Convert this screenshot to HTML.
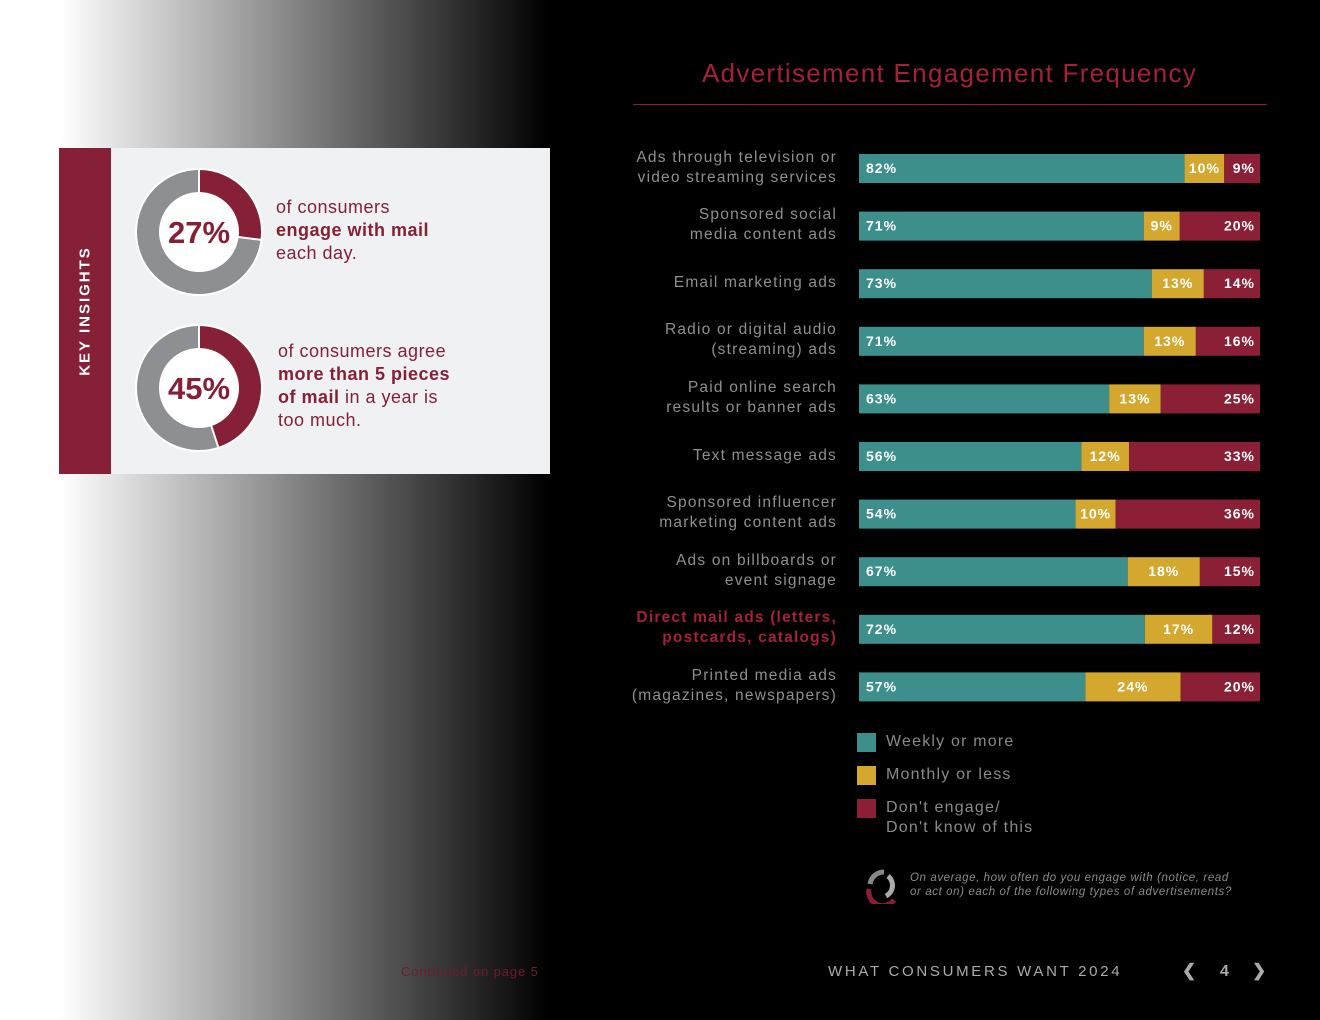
<!DOCTYPE html>
<html><head><meta charset="utf-8"><style>
body{margin:0;width:1320px;height:1020px;overflow:hidden;font-family:"Liberation Sans",sans-serif;background:linear-gradient(to right,#fff 0px,#fff 60px,#000 548px,#000 100%);position:relative}
.abs{position:absolute}
</style></head><body>
<div class="abs" style="left:59px;top:148px;width:491px;height:326px;background:#f0f1f3"></div>
<div class="abs" style="left:59px;top:148px;width:52px;height:326px;background:#862036"></div>
<div class="abs" style="left:85px;top:311px;transform:translate(-50%,-50%) rotate(-90deg);color:#fff;font-weight:bold;font-size:15px;letter-spacing:2px;white-space:nowrap">KEY INSIGHTS</div>
<svg class="abs" style="left:0;top:0" width="1320" height="1020">
<g id="donuts"></g>
<g id="bars"></g>
</svg>
<div class="abs" style="left:276px;top:196px;color:#862036;font-size:18px;line-height:23px;letter-spacing:0.5px">of consumers<br><b>engage with mail</b><br>each day.</div>
<div class="abs" style="left:278px;top:340px;color:#862036;font-size:18px;line-height:23px;letter-spacing:0.5px">of consumers agree<br><b>more than 5 pieces<br>of mail</b> in a year is<br>too much.</div>
<div class="abs" style="left:632px;top:58px;width:635px;text-align:center;color:#a52039;font-size:26px;letter-spacing:1.3px">Advertisement Engagement Frequency</div>
<div class="abs" style="left:633px;top:104px;width:634px;height:1px;background:#8a1f33"></div>
<div id="labels"></div>
<div class="abs" style="left:857px;top:732px;color:#8a8a8a;font-size:16px;letter-spacing:1.2px;line-height:20px">
<div style="position:absolute;top:0;white-space:nowrap"><span style="position:absolute;left:0;top:1px;width:19px;height:19px;background:#3d8f8c"></span><span style="position:absolute;left:29px">Weekly or more</span></div>
<div style="position:absolute;top:33px;white-space:nowrap"><span style="position:absolute;left:0;top:1px;width:19px;height:19px;background:#d4a82f"></span><span style="position:absolute;left:29px">Monthly or less</span></div>
<div style="position:absolute;top:66px;white-space:nowrap"><span style="position:absolute;left:0;top:1px;width:19px;height:19px;background:#8b1f35"></span><span style="position:absolute;left:29px">Don't engage/<br>Don't know of this</span></div>
</div>
<svg class="abs" style="left:864px;top:868px" width="36" height="36"><path d="M20 4 A14 14 0 0 0 6 16" stroke="#888" stroke-width="5" fill="none"/><path d="M24 8 A12 12 0 0 1 22 28" stroke="#aaa" stroke-width="5" fill="none"/><path d="M5 21 A14 14 0 0 0 30 32" stroke="#8b1f35" stroke-width="5" fill="none"/></svg>
<div class="abs" style="left:910px;top:871px;color:#8a8a8a;font-style:italic;font-size:11.5px;line-height:14px;letter-spacing:0.6px">On average, how often do you engage with (notice, read<br>or act on) each of the following types of advertisements?</div>
<div class="abs" style="left:401px;top:964px;color:#6e1d2c;font-size:13px;letter-spacing:0.9px">Continued on page 5</div>
<div class="abs" style="left:828px;top:963px;color:#aaa;font-size:15px;letter-spacing:2.7px">WHAT CONSUMERS WANT 2024</div>
<div class="abs" style="left:1182px;top:961px;color:#aaa;font-size:17px;font-weight:bold">&#10094;</div>
<div class="abs" style="left:1220px;top:963px;color:#aaa;font-size:16px;font-weight:bold">4</div>
<div class="abs" style="left:1252px;top:961px;color:#aaa;font-size:17px;font-weight:bold">&#10095;</div>
<script>
const categories=[["Ads through television or","video streaming services"],["Sponsored social","media content ads"],["Email marketing ads"],["Radio or digital audio","(streaming) ads"],["Paid online search","results or banner ads"],["Text message ads"],["Sponsored influencer","marketing content ads"],["Ads on billboards or","event signage"],["Direct mail ads (letters,","postcards, catalogs)"],["Printed media ads","(magazines, newspapers)"]];
const weekly=[82,71,73,71,63,56,54,67,72,57];
const monthly=[10,9,13,13,13,12,10,18,17,24];
const dont=[9,20,14,16,25,33,36,15,12,20];
const donutValues=[27,45];
const NS="http://www.w3.org/2000/svg";
const X0=859,W=401,Y0=154,STEP=57.6,H=29;
const colors=["#3d8f8c","#d4a82f","#8b1f35"];
const bars=document.getElementById('bars');
function xs(v,t){return v/t*W;}
function rect(x,y,w,h,f){const r=document.createElementNS(NS,'rect');r.setAttribute('x',x);r.setAttribute('y',y);r.setAttribute('width',w);r.setAttribute('height',h);r.setAttribute('fill',f);return r;}
function txt(x,y,s,anchor){const t=document.createElementNS(NS,'text');t.setAttribute('x',x);t.setAttribute('y',y);t.setAttribute('fill','#fff');t.setAttribute('font-size','14');t.setAttribute('font-weight','bold');t.setAttribute('letter-spacing','1');t.setAttribute('text-anchor',anchor);t.setAttribute('font-family','Liberation Sans, sans-serif');t.textContent=s;return t;}
const labelsDiv=document.getElementById('labels');
categories.forEach((c,i)=>{
  const tot=weekly[i]+monthly[i]+dont[i];
  const y=Y0+i*STEP;
  let x=X0;
  const vals=[weekly[i],monthly[i],dont[i]];
  const names=['weekly','monthly','dont'];
  vals.forEach((v,k)=>{
    const w=xs(v,tot);
    const r=rect(x,y,w,H,colors[k]);
    
    
    bars.appendChild(r);
    let t;
    if(k==0)t=txt(x+7,y+19,v+'%','start');
    else if(k==1)t=txt(x+w/2,y+19,v+'%','middle');
    else t=txt(x+w-5,y+19,v+'%','end');
    
    
    bars.appendChild(t);
    x+=w;
  });
  const d=document.createElement('div');
  
  
  const hl=i===8;
  d.style.cssText='position:absolute;right:'+(1320-837)+'px;text-align:right;font-size:15.5px;line-height:20px;letter-spacing:1.2px;white-space:nowrap;color:'+(hl?'#a52039':'#8f8f8f')+';font-weight:'+(hl?'bold':'normal')+';top:'+(y+H/2-c.length*10-1)+'px';
  d.innerHTML=c.join('<br>');
  labelsDiv.appendChild(d);
});
const dg=document.getElementById('donuts');
const centers=[[199,232],[199,388]];
donutValues.forEach((v,i)=>{
  const [cx,cy]=centers[i];
  const R=63,r=40;
  const bg=document.createElementNS(NS,'circle');bg.setAttribute('cx',cx);bg.setAttribute('cy',cy);bg.setAttribute('r',R);bg.setAttribute('fill','#8e8f93');bg.setAttribute('stroke','#fff');bg.setAttribute('stroke-width','2');
  
  
  dg.appendChild(bg);
  const a=v/100*2*Math.PI;
  const ex=cx+R*Math.sin(a),ey=cy-R*Math.cos(a);
  const p=document.createElementNS(NS,'path');
  p.setAttribute('d',`M${cx} ${cy} L${cx} ${cy-R} A${R} ${R} 0 ${v>50?1:0} 1 ${ex} ${ey} Z`);
  p.setAttribute('fill','#862036');p.setAttribute('stroke','#fff');p.setAttribute('stroke-width','2');
  
  
  dg.appendChild(p);
  const inner=document.createElementNS(NS,'circle');inner.setAttribute('cx',cx);inner.setAttribute('cy',cy);inner.setAttribute('r',r);inner.setAttribute('fill','#fff');
  
  
  dg.appendChild(inner);
  const t=document.createElementNS(NS,'text');t.setAttribute('x',cx);t.setAttribute('y',cy+11);t.setAttribute('text-anchor','middle');t.setAttribute('fill','#862036');t.setAttribute('font-size','31');t.setAttribute('font-weight','bold');t.setAttribute('font-family','Liberation Sans, sans-serif');t.textContent=v+'%';
  
  
  dg.appendChild(t);
});
</script>
</body></html>
